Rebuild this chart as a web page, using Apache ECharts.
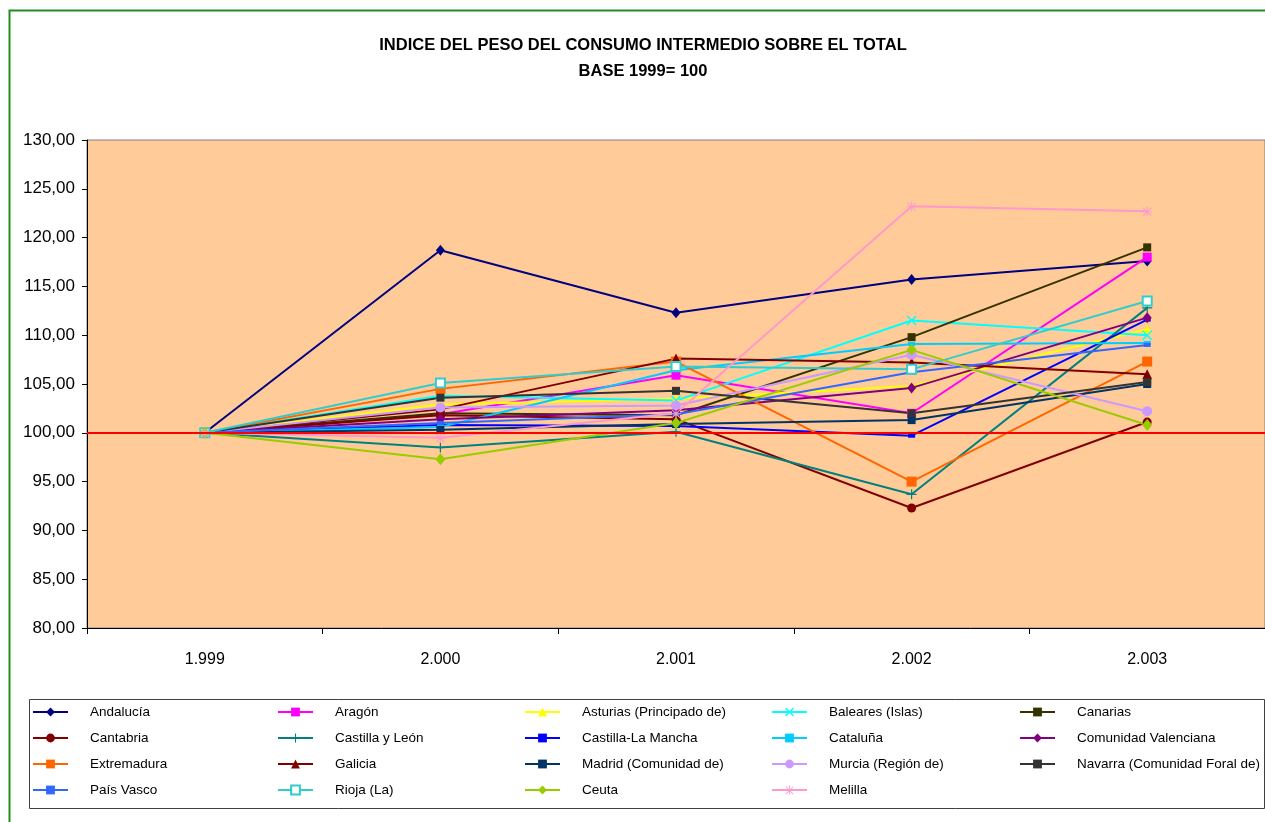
<!DOCTYPE html>
<html>
<head>
<meta charset="utf-8">
<script src="https://cdn.jsdelivr.net/npm/echarts@6/dist/echarts.min.js"></script>
<style>
html,body{margin:0;padding:0;background:#fff;}
#chart{width:1265px;height:822px;}
</style>
</head>
<body>
<div id="chart"></div>
<script>
const years = ['1.999', '2.000', '2.001', '2.002', '2.003'];
const yTicks = {min: 80, max: 130, interval: 5};

const andalucia    = [100, 118.7, 112.3, 115.7, 117.6];
const aragon       = [100, 101.9, 105.9, 102.0, 118.0];
const asturias     = [100, 102.9, 103.5, 104.8, 110.6];
const baleares     = [100, 103.8, 103.3, 111.5, 110.0];
const canarias     = [100, 102.0, 101.8, 109.8, 119.0];
const cantabria    = [100, 101.8, 101.4, 92.3, 101.1];
const castillaLeon = [100, 98.5, 100.1, 93.7, 112.8];
const castillaMancha = [100, 100.8, 100.7, 99.7, 111.6];
const cataluna     = [100, 100.6, 106.4, 109.1, 109.2];
const comValenciana= [100, 101.4, 102.3, 104.6, 111.8];
const extremadura  = [100, 104.5, 107.3, 95.0, 107.3];
const galicia      = [100, 102.4, 107.6, 107.2, 106.0];
const madrid       = [100, 100.3, 100.9, 101.3, 105.0];
const murcia       = [100, 102.6, 102.8, 108.0, 102.2];
const navarra      = [100, 103.6, 104.3, 102.0, 105.2];
const paisVasco    = [100, 101.0, 101.9, 106.2, 109.0];
const rioja        = [100, 105.1, 106.8, 106.5, 113.5];
const ceuta        = [100, 97.3, 101.0, 108.5, 100.8];
const melilla      = [100, 99.5, 102.0, 123.2, 122.7];
const baseLine = 100;

const names = ['Andalucía','Aragón','Asturias (Principado de)','Baleares (Islas)','Canarias',
  'Cantabria','Castilla y León','Castilla-La Mancha','Cataluña','Comunidad Valenciana',
  'Extremadura','Galicia','Madrid (Comunidad de)','Murcia (Región de)','Navarra (Comunidad Foral de)',
  'País Vasco','Rioja (La)','Ceuta','Melilla'];
const values = [andalucia, aragon, asturias, baleares, canarias, cantabria, castillaLeon, castillaMancha,
  cataluna, comValenciana, extremadura, galicia, madrid, murcia, navarra, paisVasco, rioja, ceuta, melilla];

const X_PATH = 'path://M0,1L1,0L5,4L9,0L10,1L6,5L10,9L9,10L5,6L1,10L0,9L4,5Z';
const PLUS_PATH = 'path://M4.4,0H5.6V4.4H10V5.6H5.6V10H4.4V5.6H0V4.4H4.4Z';
const AST_PATH = 'path://M4.5,0H5.5V4.3L8.8,1L9.5,1.7L6.2,5H10V6H6.2L9.5,9.3L8.8,10L5.5,6.7V10H4.5V6.7L1.2,10L0.5,9.3L3.8,6H0V5H3.8L0.5,1.7L1.2,1L4.5,4.3Z';

const styles = [
  {c:'#000080', s:'diamond', z:[9,11]},
  {c:'#FF00FF', s:'rect', z:9},
  {c:'#FFFF00', s:'triangle', z:9},
  {c:'#00FFFF', s:X_PATH, z:10},
  {c:'#333300', s:'rect', z:8},
  {c:'#800000', s:'circle', z:9},
  {c:'#008080', s:PLUS_PATH, z:10},
  {c:'#0000FF', s:'rect', z:[7,4]},
  {c:'#00CCFF', s:'rect', z:[7,4]},
  {c:'#800080', s:'diamond', z:[9,11]},
  {c:'#FF6600', s:'rect', z:10},
  {c:'#800000', s:'triangle', z:10},
  {c:'#003366', s:'rect', z:8},
  {c:'#CC99FF', s:'circle', z:10},
  {c:'#333333', s:'rect', z:8},
  {c:'#3366FF', s:'rect', z:[7,4]},
  {c:'#33CCCC', s:'emptyRect', z:9},
  {c:'#99CC00', s:'diamond', z:[10,12]},
  {c:'#FF99CC', s:AST_PATH, z:10}
];

const FONT = '"Liberation Sans", Arial, sans-serif';

const series = names.map((n, i) => ({
  name: n,
  type: 'line',
  data: values[i],
  symbol: styles[i].s,
  symbolSize: styles[i].z,
  showAllSymbol: true,
  lineStyle: {color: styles[i].c, width: 2},
  itemStyle: {color: styles[i].c, borderColor: styles[i].c, borderWidth: styles[i].s === 'emptyRect' ? 2 : 0},
  emphasis: {disabled: true},
  animation: false
}));

series.push({
  name: 'base',
  type: 'line',
  data: [],
  z: 5,
  markLine: {
    silent: true,
    symbol: 'none',
    label: {show: false},
    lineStyle: {color: '#FF0000', width: 2, type: 'solid'},
    data: [{yAxis: baseLine}]
  },
  animation: false
});

const colLefts = [32, 277, 524, 771, 1019];
const legends = colLefts.map((left, col) => ({
  orient: 'vertical',
  left: left,
  top: 705,
  padding: 0,
  itemWidth: 35,
  itemHeight: 11,
  itemGap: 12,
  data: names.filter((_, i) => i % 5 === col),
  textStyle: {fontFamily: FONT, fontSize: 13.5, lineHeight: 14, color: '#000', padding: [0, 0, 0, 17]},
  selectedMode: false
}));

const chart = echarts.init(document.getElementById('chart'));
chart.setOption({
  animation: false,
  backgroundColor: '#fff',
  grid: {left: 87, top: 140, right: 0, bottom: 194, show: true, backgroundColor: '#FFCC99', borderColor: '#808080', borderWidth: 1},
  xAxis: {
    type: 'category',
    data: years,
    boundaryGap: true,
    axisLine: {lineStyle: {color: '#000', width: 1}},
    axisTick: {show: true, length: 6, lineStyle: {color: '#000'}},
    axisLabel: {fontFamily: FONT, fontSize: 16, color: '#000', margin: 24},
    splitLine: {show: false}
  },
  yAxis: {
    type: 'value',
    min: yTicks.min, max: yTicks.max, interval: yTicks.interval,
    axisLine: {show: true, lineStyle: {color: '#000', width: 1}},
    axisTick: {show: true, length: 5, lineStyle: {color: '#000'}},
    axisLabel: {fontFamily: FONT, fontSize: 17, color: '#000', margin: 12,
      formatter: v => v.toFixed(2).replace('.', ',')},
    splitLine: {show: false}
  },
  legend: legends,
  graphic: [
    {type: 'rect', left: 7, top: 8, shape: {width: 1400, height: 1000}, style: {fill: 'none', stroke: '#228B22', lineWidth: 2}, silent: true, z: -10},
    {type: 'rect', left: 27, top: 697, shape: {width: 1235, height: 109}, style: {fill: 'none', stroke: '#404040', lineWidth: 1}, silent: true},
    {type: 'text', x: 643, y: 45, style: {text: 'INDICE DEL PESO DEL CONSUMO INTERMEDIO SOBRE EL TOTAL', font: 'bold 16.5px ' + FONT, fill: '#000', textAlign: 'center', textVerticalAlign: 'middle'}},
    {type: 'text', x: 643, y: 71, style: {text: 'BASE 1999= 100', font: 'bold 16.5px ' + FONT, fill: '#000', textAlign: 'center', textVerticalAlign: 'middle'}}
  ],
  series: series
});
</script>
</body>
</html>
